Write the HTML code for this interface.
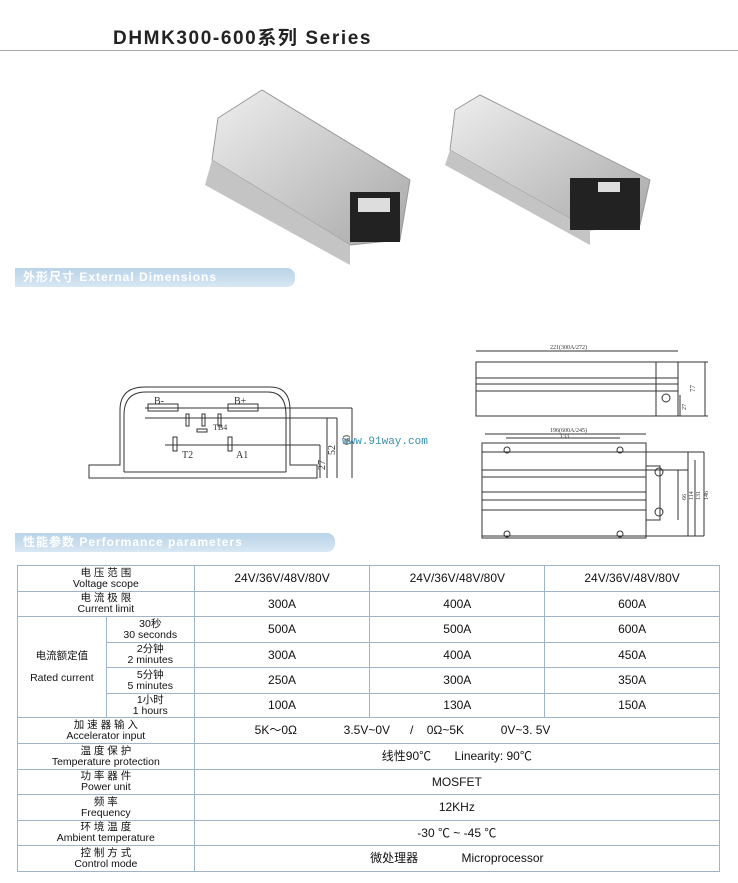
<!DOCTYPE html>
<html><head><meta charset="utf-8"><style>
body{margin:0;width:738px;height:883px;background:#fff;position:relative;overflow:hidden;font-family:"Liberation Sans","Noto Sans CJK SC",sans-serif}
.t{position:absolute}
.ban{position:absolute;height:19px;background:linear-gradient(#b9d3e8,#d8e7f3);border-radius:0 8px 8px 0;color:#fff;font-weight:bold;font-size:12px;line-height:19px;padding-left:8px;letter-spacing:1px;box-sizing:border-box}
table{position:absolute;left:17px;top:565px;border-collapse:collapse;width:703px}
td{border:1px solid #9fb4c8;text-align:center;font-size:12px;color:#111;padding:0;line-height:11px}
.l{font-size:10.5px;letter-spacing:0}
</style></head><body>
<div class="t" style="left:113px;top:23px;font-size:19px;font-weight:bold;color:#222;letter-spacing:1.6px">DHMK300-600系列 Series</div>
<div class="t" style="left:0;top:50px;width:738px;height:1px;background:#aaa"></div>
<svg class="t" style="left:0;top:0" width="738" height="560">
<defs><linearGradient id="g" x1="0" y1="0" x2="1" y2="1"><stop offset="0" stop-color="#eeeeee"/><stop offset="1" stop-color="#a8a8a8"/></linearGradient></defs>
<polygon points="218,118 262,90 410,180 400,240 350,245 212,160" fill="url(#g)" stroke="#999"/>
<polygon points="212,160 350,245 350,265 205,185" fill="#c4c4c4"/>
<rect x="350" y="192" width="50" height="50" fill="#222"/>
<rect x="358" y="198" width="32" height="14" fill="#ddd"/>
<polygon points="455,110 480,95 650,180 640,225 590,230 450,150" fill="url(#g)" stroke="#999"/>
<polygon points="450,150 590,230 590,245 445,165" fill="#c4c4c4"/>
<rect x="570" y="178" width="70" height="52" fill="#222"/>
<rect x="598" y="182" width="22" height="10" fill="#ddd"/>
<g fill="none" stroke="#333" stroke-width="1">
<path d="M89,478 V465 H120 V410 Q120,387 145,387 H270 Q290,387 290,410 V465 H317 V478 Z"/>
<path d="M124,472 V415 Q124,392 146,392 H268 Q286,392 286,415 V472"/>
<path d="M124,472 H286"/>
<rect x="148" y="404" width="30" height="7"/><rect x="228" y="404" width="30" height="7"/>
<rect x="186" y="414" width="3" height="12"/><rect x="202" y="414" width="3" height="12"/><rect x="218" y="414" width="3" height="12"/>
<rect x="197" y="429" width="10" height="3"/>
<rect x="173" y="437" width="4" height="14"/><rect x="228" y="437" width="4" height="14"/>
<path d="M145,408 H352 M145,418 H337 M165,445 H320 M327,418 V478 M337,418 V478 M352,408 V478 M320,445 V478"/>
<rect x="476" y="362" width="202" height="54"/>
<path d="M476,378 H678 M476,384 H678 M476,391 H678 M656,362 V416 M476,351 H678 M678,362 H708 M705,362 V416 M660,416 H708 M680,395 V416"/>
<circle cx="666" cy="398" r="4"/>
<rect x="482" y="443" width="164" height="95"/>
<path d="M482,452 H704 M482,470 H688 M482,477 H646 M482,492 H646 M482,500 H646 M482,510 H646 M482,536 H704 M646,466 V520 H660 V466 Z M485,434 H646 M506,438 H620 M688,452 V536 M695,460 V536 M704,452 V536 M678,470 V520"/>
<circle cx="507" cy="450" r="3"/><circle cx="620" cy="450" r="3"/><circle cx="659" cy="472" r="4"/><circle cx="659" cy="512" r="4"/><circle cx="507" cy="534" r="3"/><circle cx="620" cy="534" r="3"/>
</g>
<g font-family="Liberation Serif,serif" font-size="10" fill="#333">
<text x="154" y="404">B-</text><text x="234" y="404">B+</text><text x="213" y="430" font-size="8">TB4</text>
<text x="182" y="458">T2</text><text x="236" y="458">A1</text>
<text x="0" y="0" transform="translate(325,470) rotate(-90)">27</text>
<text x="0" y="0" transform="translate(335,455) rotate(-90)">52</text>
<text x="0" y="0" transform="translate(350,445) rotate(-90)">60</text>
<text x="550" y="349" font-size="6">221(300A/272)</text>
<text x="550" y="432" font-size="6">196(600A/245)</text><text x="560" y="438" font-size="6">133</text>
<text x="0" y="0" font-size="7" transform="translate(695,392) rotate(-90)">77</text>
<text x="0" y="0" font-size="6" transform="translate(686,410) rotate(-90)">27</text>
<text x="0" y="0" font-size="6" transform="translate(686,500) rotate(-90)">66</text>
<text x="0" y="0" font-size="6" transform="translate(693,500) rotate(-90)">114</text>
<text x="0" y="0" font-size="6" transform="translate(700,500) rotate(-90)">131</text>
<text x="0" y="0" font-size="6" transform="translate(708,500) rotate(-90)">146</text>
</g>
<text x="342" y="444" font-family="Liberation Mono,monospace" font-size="11" fill="#3a8fb0">www.91way.com</text>
</svg>
<div class="ban" style="left:15px;top:268px;width:280px">外形尺寸 External Dimensions</div>
<div class="ban" style="left:15px;top:533px;width:320px">性能参数 Performance parameters</div>
<table>
<colgroup><col style="width:89px"><col style="width:88px"><col style="width:176px"><col style="width:175px"><col style="width:175px"></colgroup>
<tr style="height:26px"><td colspan="2" class="l">电 压 范 围<br>Voltage scope</td><td>24V/36V/48V/80V</td><td>24V/36V/48V/80V</td><td>24V/36V/48V/80V</td></tr>
<tr style="height:25px"><td colspan="2" class="l">电 流 极 限<br>Current limit</td><td>300A</td><td>400A</td><td>600A</td></tr>
<tr style="height:26px"><td rowspan="4" class="l">电流额定值<br><br>Rated current</td><td class="l">30秒<br>30 seconds</td><td>500A</td><td>500A</td><td>600A</td></tr>
<tr style="height:25px"><td class="l">2分钟<br>2 minutes</td><td>300A</td><td>400A</td><td>450A</td></tr>
<tr style="height:26px"><td class="l">5分钟<br>5 minutes</td><td>250A</td><td>300A</td><td>350A</td></tr>
<tr style="height:24px"><td class="l">1小时<br>1 hours</td><td>100A</td><td>130A</td><td>150A</td></tr>
<tr style="height:26px"><td colspan="2" class="l">加 速 器 输 入<br>Accelerator input</td><td colspan="3" style="text-align:left;padding-left:60px;word-spacing:0">5K～0Ω&nbsp;&nbsp;&nbsp;&nbsp;&nbsp;&nbsp;&nbsp;&nbsp;&nbsp;&nbsp;&nbsp;&nbsp;&nbsp;&nbsp;3.5V~0V&nbsp;&nbsp;&nbsp;&nbsp;&nbsp;&nbsp;/&nbsp;&nbsp;&nbsp;&nbsp;0Ω~5K&nbsp;&nbsp;&nbsp;&nbsp;&nbsp;&nbsp;&nbsp;&nbsp;&nbsp;&nbsp;&nbsp;0V~3. 5V</td></tr>
<tr style="height:26px"><td colspan="2" class="l">温 度 保 护<br>Temperature protection</td><td colspan="3">线性90℃&nbsp;&nbsp;&nbsp;&nbsp;&nbsp;&nbsp;&nbsp;Linearity: 90℃</td></tr>
<tr style="height:25px"><td colspan="2" class="l">功 率 器 件<br>Power unit</td><td colspan="3">MOSFET</td></tr>
<tr style="height:26px"><td colspan="2" class="l">频 率<br>Frequency</td><td colspan="3">12KHz</td></tr>
<tr style="height:25px"><td colspan="2" class="l">环 境 温 度<br>Ambient temperature</td><td colspan="3">-30 ℃ ~ -45 ℃</td></tr>
<tr style="height:26px"><td colspan="2" class="l">控 制 方 式<br>Control mode</td><td colspan="3">微处理器&nbsp;&nbsp;&nbsp;&nbsp;&nbsp;&nbsp;&nbsp;&nbsp;&nbsp;&nbsp;&nbsp;&nbsp;&nbsp;Microprocessor</td></tr>
</table>
</body></html>
